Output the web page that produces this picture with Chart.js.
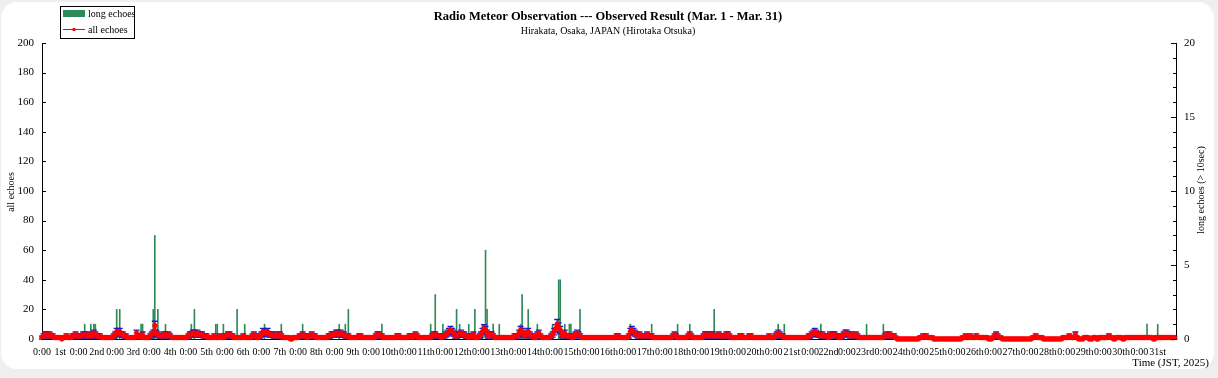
<!DOCTYPE html>
<html lang="en">
<head>
    <meta charset="UTF-8">
    <title>Radio Meteor Observation</title>
    <script src="https://cdn.jsdelivr.net/npm/chart.js"></script>
    <style>
        html, body { margin: 0; padding: 0; background: #efefef; }
        #meteorChart { display: block; }
    </style>
</head>
<body>
    <canvas id="meteorChart" width="1218" height="378"></canvas>

    <script>
        // day names shown at noon of each day
        const dayLabels = ['1st','2nd','3rd','4th','5th','6th','7th','8th','9th','10th',
            '11th','12th','13th','14th','15th','16th','17th','18th','19th','20th',
            '21st','22nd','23rd','24th','25th','26th','27th','28th','29th','30th','31st'];

        // all echoes per hour, one row per day (0:00 - 23:00)
        const allEchoes = [
            1,2,3,3,2,3,2,2,1,1,1,1,1,0,1,1,2,1,1,1,2,2,3,2,
            2,2,2,3,3,2,2,3,2,2,4,3,2,2,2,1,1,1,1,1,1,1,1,2,
            3,5,4,5,3,3,2,2,1,1,1,1,1,1,4,2,2,1,3,1,1,1,1,2,
            3,4,9,4,3,2,2,2,3,3,2,3,2,1,1,1,1,1,1,1,1,1,1,1,
            2,3,3,4,4,3,4,3,3,3,2,2,2,1,1,1,1,2,1,1,1,2,1,1,
            2,2,3,3,2,2,1,1,1,1,1,1,2,1,1,1,1,1,2,3,2,1,1,2,
            3,5,4,4,5,3,3,3,2,2,3,2,3,2,1,1,1,1,1,0,0,1,1,1,
            1,2,2,3,2,2,1,2,2,3,2,2,1,1,1,1,1,1,1,1,2,2,3,3,
            3,4,4,3,4,3,3,2,2,2,1,1,1,1,1,1,2,2,1,1,1,1,1,1,
            1,1,1,2,3,3,2,2,1,1,1,1,1,1,1,1,1,2,2,1,1,1,1,1,
            1,2,2,1,2,3,2,1,1,1,1,1,1,1,1,1,2,3,3,2,2,2,1,2,
            2,3,4,5,6,5,4,2,2,3,3,4,3,3,2,2,1,2,2,3,1,1,1,2,
            3,5,7,6,4,2,3,3,2,1,1,1,1,1,1,1,1,1,1,1,1,1,2,2,
            2,4,6,5,3,2,4,5,3,2,2,1,1,3,4,2,1,1,1,1,1,1,2,3,
            5,7,10,8,6,3,2,4,2,2,2,2,1,2,3,4,3,2,1,1,1,1,1,1,
            1,1,1,1,1,1,1,1,1,1,1,1,1,1,1,1,1,2,2,1,1,1,1,1,
            1,2,5,6,5,4,3,2,3,2,2,2,2,3,2,2,2,1,1,1,1,1,1,1,
            1,1,1,1,1,1,2,3,2,1,1,1,1,1,1,1,2,3,2,1,1,1,1,1,
            1,1,2,3,3,2,2,3,3,2,2,2,3,2,2,2,2,3,3,2,1,1,1,1,
            1,1,2,2,1,1,1,1,2,2,1,1,1,1,1,1,1,1,1,1,1,2,1,1,
            1,2,3,4,3,2,2,1,1,1,1,1,1,1,1,1,1,1,1,1,1,1,1,2,
            2,3,4,5,4,3,3,2,3,2,2,2,1,3,2,3,3,2,2,1,1,2,3,4,
            4,3,2,3,2,2,3,2,1,1,1,1,1,1,1,1,1,1,1,1,1,1,1,1,
            1,2,3,2,3,2,2,2,1,0,0,0,0,0,0,0,0,0,0,0,0,0,0,0,
            1,1,2,1,2,1,1,1,1,0,0,0,0,0,0,0,0,0,0,0,0,0,0,0,
            0,0,0,0,1,1,2,1,1,2,1,1,1,2,1,1,1,1,1,1,1,0,0,0,
            1,2,3,2,1,1,0,0,0,0,0,0,0,0,0,0,0,0,0,0,0,0,0,0,
            0,0,1,1,2,1,1,1,1,0,0,0,0,0,0,0,0,0,0,0,0,0,1,1,
            1,1,2,1,1,1,3,1,0,0,0,0,1,1,1,0,0,0,1,1,0,0,1,1,
            1,1,1,1,2,1,1,0,0,1,1,1,1,0,0,1,1,1,1,1,1,1,1,1,
            1,1,1,1,1,1,1,1,1,0,0,1,1,1,1,1,1,1,1,1,1,1,1,1
        ];

        // long echoes (> 10 sec): hour index from Mar. 1 0:00 and count
        const longEchoHours = [28,32,34,35,49,51,65,66,73,74,76,81,98,100,114,115,119,128,133,146,
            157,171,195,199,201,223,255,258,263,272,274,280,284,289,291,292,296,300,314,315,
            319,325,335,339,340,343,346,347,353,386,400,417,425,441,483,487,511,541,552,725,732];
        const longEchoCounts = [1,1,1,1,2,2,1,1,2,7,2,1,1,2,1,1,1,2,1,1,
            1,1,1,1,2,1,1,3,1,2,1,1,2,1,6,2,1,1,1,3,
            2,1,1,4,4,1,1,1,2,1,1,1,1,2,1,1,1,1,1,1,1];

        const SERIF = '"Liberation Serif", "DejaVu Serif", serif';
        const RED = '#ff0000';
        const GREEN = '#2e8b57';
        const BLUE = '#1a1acc';

        const echoPoints = allEchoes.map((v, i) => ({x: i, y: v}));
        const longPoints = longEchoHours.map((h, i) => ({x: h, y: longEchoCounts[i]}));

        const decorPlugin = {
            id: 'decorPlugin',
            beforeDraw(chart) {
                const {ctx} = chart;
                ctx.save();
                ctx.fillStyle = '#efefef';
                ctx.fillRect(0, 0, chart.width, chart.height);
                ctx.fillStyle = '#ffffff';
                ctx.beginPath();
                ctx.roundRect(1, 2, 1213, 367, 16);
                ctx.fill();
                ctx.restore();
            },
            afterDatasetDraw(chart, args) {
                // error bars go under the red line: draw right after the green bars
                if (args.index !== 1) return;
                const {ctx} = chart;
                const x = chart.scales.x, y = chart.scales.y;
                ctx.save();
                ctx.strokeStyle = BLUE;
                ctx.lineWidth = 1.3;
                allEchoes.forEach((v, i) => {
                    if (v <= 0) return;
                    const err = Math.sqrt(v);
                    const px = x.getPixelForValue(i);
                    const top = y.getPixelForValue(v + err);
                    const bot = y.getPixelForValue(Math.max(v - err, 0));
                    ctx.beginPath();
                    ctx.moveTo(px, top); ctx.lineTo(px, bot);
                    ctx.moveTo(px - 3, top); ctx.lineTo(px + 3, top);
                    ctx.moveTo(px - 3, bot); ctx.lineTo(px + 3, bot);
                    ctx.stroke();
                });
                ctx.restore();
            },
            afterDatasetsDraw(chart) {
                const {ctx} = chart;
                const y = chart.scales.y, y2 = chart.scales.y2;
                // inward tick marks
                ctx.save();
                ctx.strokeStyle = '#000';
                ctx.lineWidth = 1;
                ctx.beginPath();
                for (let v = 0; v <= 200; v += 20) {
                    const py = Math.round(y.getPixelForValue(v)) + 0.5;
                    ctx.moveTo(y.right, py); ctx.lineTo(y.right + 4, py);
                }
                for (let v = 0; v <= 20; v += 1) {
                    const py = Math.round(y2.getPixelForValue(v)) + 0.5;
                    const len = v % 5 === 0 ? 5 : 3;
                    ctx.moveTo(y2.left, py); ctx.lineTo(y2.left - len, py);
                }
                ctx.stroke();
                ctx.restore();
            },
            afterDraw(chart) {
                const {ctx} = chart;
                ctx.save();
                ctx.fillStyle = '#000';
                ctx.textAlign = 'center';
                ctx.textBaseline = 'middle';
                ctx.font = 'bold 12.5px ' + SERIF;
                ctx.fillText('Radio Meteor Observation --- Observed Result (Mar. 1 - Mar. 31)', 608, 17);
                ctx.font = '10px ' + SERIF;
                ctx.fillText('Hirakata, Osaka, JAPAN (Hirotaka Otsuka)', 608, 31);

                // x axis title
                ctx.textAlign = 'right';
                ctx.font = '11px ' + SERIF;
                ctx.fillText('Time (JST, 2025)', 1209, 363);

                // y axis titles
                ctx.textAlign = 'center';
                ctx.font = '10px ' + SERIF;
                ctx.save();
                ctx.translate(11, 192);
                ctx.rotate(-Math.PI / 2);
                ctx.fillText('all echoes', 0, 0);
                ctx.restore();
                ctx.save();
                ctx.translate(1201, 190);
                ctx.rotate(-Math.PI / 2);
                ctx.fillText('long echoes (> 10sec)', 0, 0);
                ctx.restore();

                // legend box
                ctx.fillStyle = '#fff';
                ctx.fillRect(60, 6, 74, 32);
                ctx.strokeStyle = '#000';
                ctx.lineWidth = 1;
                ctx.strokeRect(60.5, 6.5, 74, 32);
                ctx.fillStyle = GREEN;
                ctx.fillRect(63, 10, 22, 7);
                ctx.strokeStyle = RED;
                ctx.beginPath();
                ctx.moveTo(63, 29.5); ctx.lineTo(85, 29.5);
                ctx.stroke();
                ctx.fillStyle = RED;
                ctx.beginPath();
                ctx.arc(74, 29.5, 1.8, 0, Math.PI * 2);
                ctx.fill();
                ctx.fillStyle = '#000';
                ctx.textAlign = 'left';
                ctx.font = '10px ' + SERIF;
                ctx.fillText('long echoes', 88, 14);
                ctx.fillText('all echoes', 88, 30);
                ctx.restore();
            }
        };

        const tickFont = {family: SERIF, size: 11};

        const config = {
            type: 'bar',
            data: {
                datasets: [{
                    type: 'line',
                    label: 'all echoes',
                    data: echoPoints,
                    yAxisID: 'y',
                    borderColor: RED,
                    backgroundColor: RED,
                    borderWidth: 2,
                    pointRadius: 2.4,
                    pointBorderWidth: 0.5,
                    pointBackgroundColor: RED,
                    pointBorderColor: RED,
                    tension: 0,
                    clip: 6,
                    order: 1
                }, {
                    type: 'bar',
                    label: 'long echoes',
                    data: longPoints,
                    yAxisID: 'y2',
                    backgroundColor: GREEN,
                    barThickness: 1,
                    order: 2
                }]
            },
            options: {
                responsive: false,
                animation: false,
                events: [],
                layout: {padding: {top: 43, left: 0, right: 0, bottom: 0}},
                scales: {
                    x: {
                        type: 'linear',
                        min: 0,
                        max: 744,
                        offset: false,
                        grid: {display: false, drawTicks: false},
                        border: {display: true, color: '#000'},
                        afterBuildTicks(scale) {
                            const t = [];
                            for (let h = 0; h < 744; h += 12) t.push({value: h});
                            scale.ticks = t;
                        },
                        afterFit(scale) { scale.height = 39; },
                        ticks: {
                            autoSkip: false,
                            maxRotation: 0,
                            minRotation: 0,
                            padding: 7,
                            color: '#000',
                            font: {family: SERIF, size: 10},
                            callback: v => (v % 24 === 0 ? '0:00' : dayLabels[Math.floor(v / 24)])
                        }
                    },
                    y: {
                        position: 'left',
                        min: 0,
                        max: 200,
                        grid: {display: false, drawTicks: false},
                        border: {display: true, color: '#000'},
                        afterFit(scale) { scale.width = 42; },
                        ticks: {stepSize: 20, padding: 8, color: '#000', font: tickFont}
                    },
                    y2: {
                        position: 'right',
                        min: 0,
                        max: 20,
                        grid: {display: false, drawTicks: false},
                        border: {display: true, color: '#000'},
                        afterFit(scale) { scale.width = 42; },
                        ticks: {stepSize: 5, padding: 8, color: '#000', font: tickFont}
                    }
                },
                plugins: {
                    legend: {display: false},
                    title: {display: false},
                    tooltip: {enabled: false}
                }
            },
            plugins: [decorPlugin]
        };

        new Chart(document.getElementById('meteorChart'), config);
    </script>
</body>
</html>
